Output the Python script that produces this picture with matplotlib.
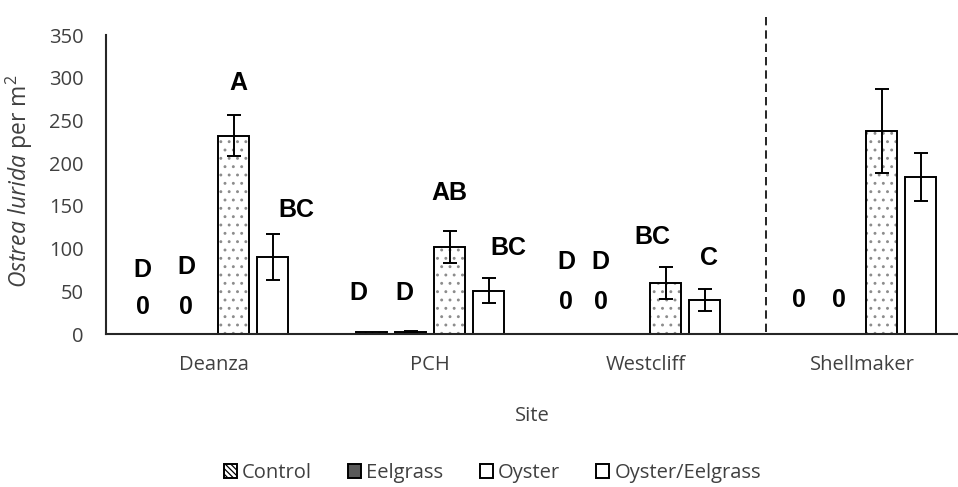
import matplotlib.pyplot as plt
from matplotlib.patches import Patch

sites = ['Deanza', 'PCH', 'Westcliff', 'Shellmaker']
treatments = ['Control', 'Eelgrass', 'Oyster', 'Oyster/Eelgrass']

# mean oysters per m2 and standard error, one list per treatment
control = [0, 2, 0, 0]
control_se = [0, 0, 0, 0]
eelgrass = [0, 3, 0, 0]
eelgrass_se = [0, 1, 0, 0]
oyster = [232, 102, 60, 238]
oyster_se = [24, 19, 19, 49]
oyster_eelgrass = [90, 51, 40, 184]
oyster_eelgrass_se = [27, 15, 13, 28]

# significance letters (Shellmaker was not part of the comparison)
letters = [['D', 'D', 'A', 'BC'],
           ['D', 'D', 'AB', 'BC'],
           ['D', 'D', 'BC', 'C'],
           ['', '', '', '']]
letter_y = [[75, 78, 294, 145],
            [48, 48, 165, 101],
            [84, 84, 114, 89],
            [0, 0, 0, 0]]
letter_dx = [[-0.06, -0.04, 0.02, 0.11],
             [-0.06, -0.03, 0.0, 0.09],
             [-0.10, -0.12, -0.06, 0.02],
             [-0.02, -0.015, 0, 0]]
zero_y = [32, 32, 37, 40]

means = [control, eelgrass, oyster, oyster_eelgrass]
errs = [control_se, eelgrass_se, oyster_se, oyster_eelgrass_se]
faces = ['white', '#595959', 'white', 'white']
hatches = ['\\\\\\\\\\', None, None, None]

plt.rcParams['font.family'] = 'Open Sans'
plt.rcParams['mathtext.fontset'] = 'custom'
plt.rcParams['mathtext.rm'] = 'Open Sans'
plt.rcParams['mathtext.it'] = 'Open Sans:italic'
plt.rcParams['hatch.linewidth'] = 0.9

fig = plt.figure(figsize=(9.58, 4.87), dpi=100)
ax = fig.add_axes([0.1107, 0.314, 0.8893, 0.614])

step = 0.1806
width = 0.1435
offsets = [-1.5 * step, -0.5 * step, 0.5 * step, 1.5 * step]
x = list(range(len(sites)))

for k in range(4):
    xs = [i + offsets[k] for i in x]
    if k == 2:
        # grey dot fill under the black outline
        ax.bar(xs, means[k], width, color='white', edgecolor='#8c8c8c',
               linewidth=0, hatch='..', zorder=1.5)
        ax.bar(xs, means[k], width, color='none', edgecolor='black',
               linewidth=1.4, zorder=2)
    else:
        ax.bar(xs, means[k], width, color=faces[k], edgecolor='black',
               linewidth=1.4, hatch=hatches[k], zorder=2)
    show = [i for i in x if means[k][i] > 0 and errs[k][i] > 0]
    ax.errorbar([xs[i] for i in show], [means[k][i] for i in show],
                yerr=[errs[k][i] for i in show], fmt='none', ecolor='black',
                elinewidth=1.4, capsize=5, capthick=1.4, zorder=3)

bold = {'family': 'Liberation Sans', 'weight': 'bold', 'size': 18}
for i in x:
    for k in range(4):
        bx = i + offsets[k] + letter_dx[i][k]
        if letters[i][k]:
            ax.text(bx, letter_y[i][k], letters[i][k], ha='center',
                    va='center', fontdict=bold, zorder=4)
        if k < 2 and means[k][i] == 0:
            ax.text(bx, zero_y[i], str(means[k][i]), ha='center',
                    va='center', fontdict=bold, zorder=4)

# divider between the compared sites and Shellmaker
ax.plot([2.556, 2.556], [3, 373], color='black', linestyle=(0, (5, 3)),
        linewidth=1.2, clip_on=False)

ax.set_xlim(-0.5, 3.444)
ax.set_ylim(0, 350)
ax.set_yticks(range(0, 351, 50))
ax.set_xticks(x)
ax.set_xticklabels(sites)
ax.tick_params(axis='both', length=0, labelsize=14.5, colors='#404040')
ax.tick_params(axis='y', pad=16)
ax.tick_params(axis='x', pad=15)
for s in ['top', 'right']:
    ax.spines[s].set_visible(False)
for s in ['left', 'bottom']:
    ax.spines[s].set_linewidth(1.5)
    ax.spines[s].set_color('#262626')

ax.set_ylabel(r'$\it{Ostrea\ lurida}$ per m$^2$', fontsize=16.5, color='#404040')
ax.yaxis.set_label_coords(-0.083, 0.51)
ax.set_xlabel('Site', fontsize=14.5, color='#404040')
ax.xaxis.set_label_coords(0.5, -0.241)

handles = [Patch(facecolor='white', edgecolor='black', linewidth=1.4,
                 hatch='\\\\\\\\\\\\', label='Control'),
           Patch(facecolor='#595959', edgecolor='black', linewidth=1.4,
                 label='Eelgrass'),
           Patch(facecolor='white', edgecolor='black', linewidth=1.4,
                 label='Oyster'),
           Patch(facecolor='white', edgecolor='black', linewidth=1.4,
                 label='Oyster/Eelgrass')]
fig.legend(handles=handles, loc='center', bbox_to_anchor=(0.514, 0.029),
           ncol=4, frameon=False, handlelength=0.65, handleheight=0.65,
           handletextpad=0.25, columnspacing=1.8,
           prop={'family': 'Open Sans', 'size': 14.5},
           labelcolor='#404040')

fig.savefig('out.png', dpi=100)
